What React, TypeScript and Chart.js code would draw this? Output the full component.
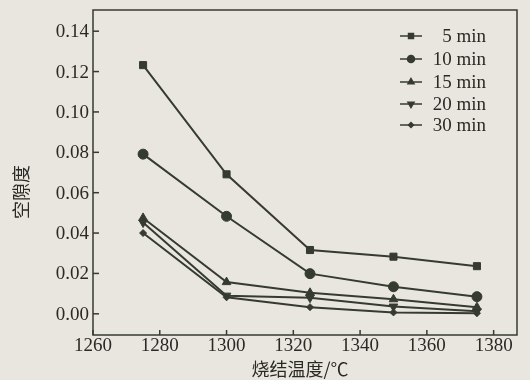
import React, { useEffect, useRef } from "react";
import { Chart, registerables } from "chart.js";
import { drawPoint } from "chart.js/helpers";
Chart.register(...registerables);

const temps = [1275, 1300, 1325, 1350, 1375];
const s5 = [0.1232, 0.0691, 0.0316, 0.0283, 0.0236];
const s10 = [0.0791, 0.0483, 0.0199, 0.0134, 0.0085];
const s15 = [0.0475, 0.0157, 0.0104, 0.0072, 0.0033];
const s20 = [0.0452, 0.0090, 0.0080, 0.0036, 0.0013];
const s30 = [0.0400, 0.0082, 0.0033, 0.0007, 0.0003];
const seriesNames = ["5 min", "10 min", "15 min", "20 min", "30 min"];
const yTicks = [0, 0.02, 0.04, 0.06, 0.08, 0.1, 0.12, 0.14];
const xTicks = [1260, 1280, 1300, 1320, 1340, 1360, 1380];

const INK = "#363b30";
const TXT = "#2a2a25";
const FONT = "'Liberation Serif', 'DejaVu Serif', serif";
const CJK = "'Noto Sans CJK SC', sans-serif";

const styles: any[] = [
  { ps: "rect", r: 5 },
  { ps: "circle", r: 5 },
  { ps: "triangle", r: 5 },
  { ps: "triangle", r: 5, rot: 180 },
  { ps: "rectRot", r: 3.5 },
];

export default function App() {
  const ref = useRef<HTMLCanvasElement>(null);
  useEffect(() => {
    document.body.style.margin = "0";
    document.body.style.background = "#e9e6df";
    const all = [s5, s10, s15, s20, s30];
    const frame = {
      id: "frame",
      afterDraw(chart: any) {
        const { ctx, chartArea: a, scales } = chart;
        ctx.save();
        ctx.strokeStyle = INK;
        ctx.lineWidth = 1.5;
        ctx.strokeRect(a.left, a.top, a.right - a.left, a.bottom - a.top);
        ctx.fillStyle = TXT;
        ctx.font = `19px ${FONT}`;
        ctx.textAlign = "right";
        ctx.textBaseline = "middle";
        yTicks.forEach((v) => {
          const y = scales.y.getPixelForValue(v);
          ctx.beginPath();
          ctx.moveTo(a.left, y);
          ctx.lineTo(a.left + 6, y);
          ctx.stroke();
          ctx.fillText(v.toFixed(2), a.left - 4, y + 1);
        });
        ctx.textAlign = "center";
        xTicks.forEach((v) => {
          const x = scales.x.getPixelForValue(v);
          ctx.beginPath();
          ctx.moveTo(x, a.bottom);
          ctx.lineTo(x, a.bottom - 5);
          ctx.stroke();
          ctx.fillText(String(v), x, a.bottom + 11);
        });
        ctx.font = `18px ${CJK}`;
        ctx.fillText("烧结温度/℃", (a.left + a.right) / 2 - 5, a.bottom + 34);
        ctx.save();
        ctx.translate(21, 192);
        ctx.rotate(-Math.PI / 2);
        ctx.fillText("空隙度", 0, 0);
        ctx.restore();
        const rows = [36, 59, 82, 104, 125];
        rows.forEach((y, i) => {
          ctx.beginPath();
          ctx.strokeStyle = INK;
          ctx.lineWidth = 1.5;
          ctx.moveTo(400, y);
          ctx.lineTo(422, y);
          ctx.stroke();
          const st = styles[i];
          ctx.fillStyle = INK;
          drawPoint(ctx, { pointStyle: st.ps, radius: st.r * 0.7, rotation: st.rot || 0, borderWidth: 1 } as any, 411, y);
          ctx.fillStyle = TXT;
          ctx.textAlign = "right";
          ctx.textBaseline = "middle";
          ctx.font = `19px ${FONT}`;
          ctx.fillText(seriesNames[i], 486, y + 1);
        });
        ctx.restore();
      },
    };
    const chart = new Chart(ref.current!, {
      type: "line",
      data: {
        datasets: all.map((s, i) => ({
          label: seriesNames[i],
          data: s.map((v, j) => ({ x: temps[j], y: v })),
          borderColor: INK,
          backgroundColor: INK,
          borderWidth: 2,
          pointStyle: styles[i].ps,
          pointRadius: styles[i].r,
          pointRotation: styles[i].rot || 0,
          pointBorderWidth: 1,
          tension: 0,
        })),
      },
      options: {
        responsive: false,
        animation: false,
        layout: { padding: { left: 0, right: 13, top: 10, bottom: 0 } },
        plugins: { legend: { display: false }, tooltip: { enabled: false } },
        scales: {
          x: {
            type: "linear",
            min: 1260,
            max: 1387,
            grid: { display: false },
            border: { display: false },
            ticks: { display: false },
            afterFit: (s: any) => { s.height = 45; },
          },
          y: {
            min: -0.0105,
            max: 0.1505,
            grid: { display: false },
            border: { display: false },
            ticks: { display: false },
            afterFit: (s: any) => { s.width = 93; },
          },
        },
      },
      plugins: [frame],
    });
    return () => chart.destroy();
  }, []);
  return <canvas ref={ref} width={530} height={380} style={{ display: "block", background: "#e9e6df" }} />;
}
